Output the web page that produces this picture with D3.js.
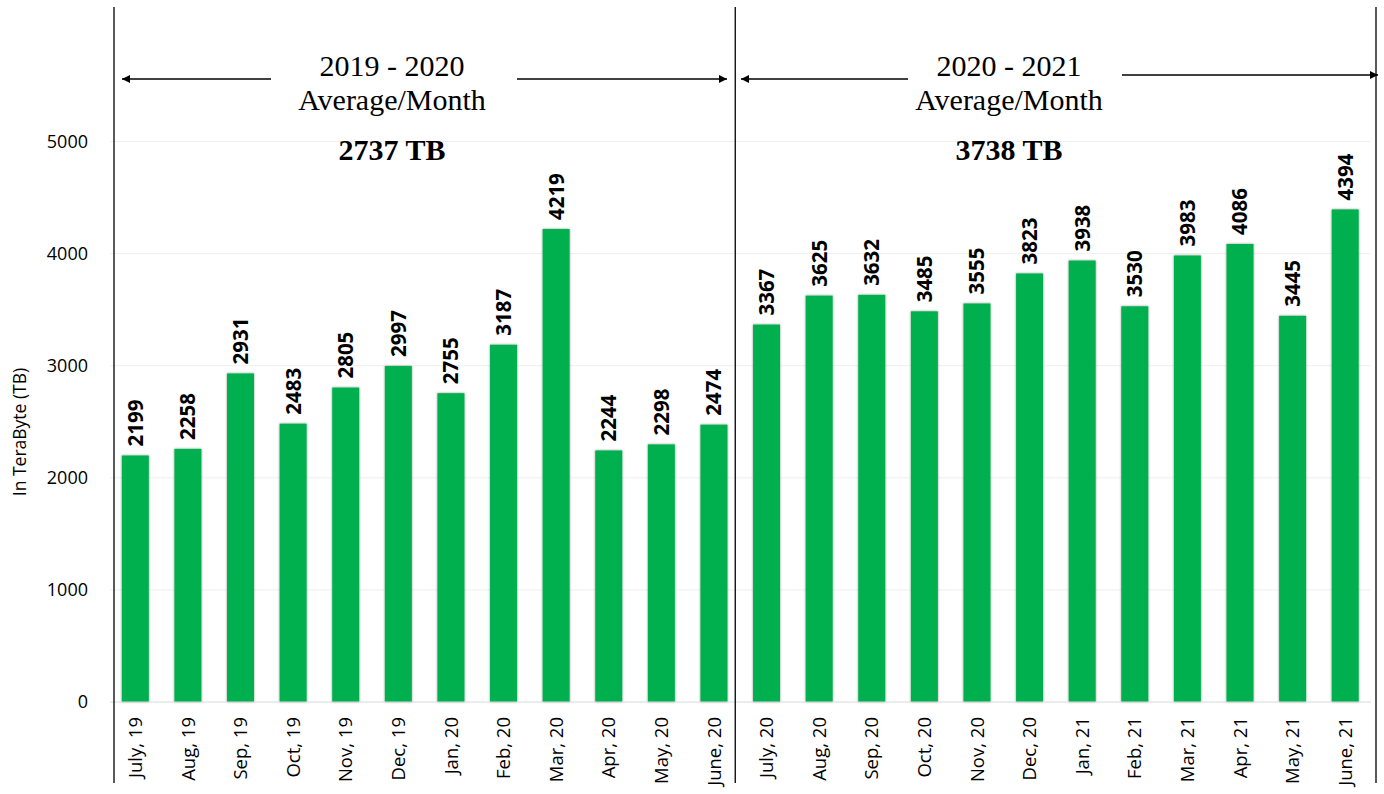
<!DOCTYPE html>
<html>
<head>
<meta charset="utf-8">
<script src="https://cdn.jsdelivr.net/npm/d3@7"></script>
<style>
  body { margin: 0; background: #fff; }
  svg { display: block; }
</style>
</head>
<body>
<svg width="1384" height="794"></svg>
<script>
// monthly usage, TB
const months = [
  "July, 19", "Aug, 19", "Sep, 19", "Oct, 19", "Nov, 19", "Dec, 19",
  "Jan, 20", "Feb, 20", "Mar, 20", "Apr, 20", "May, 20", "June, 20",
  "July, 20", "Aug, 20", "Sep, 20", "Oct, 20", "Nov, 20", "Dec, 20",
  "Jan, 21", "Feb, 21", "Mar, 21", "Apr, 21", "May, 21", "June, 21"
];
const values = [
  2199, 2258, 2931, 2483, 2805, 2997, 2755, 3187, 4219, 2244, 2298, 2474,
  3367, 3625, 3632, 3485, 3555, 3823, 3938, 3530, 3983, 4086, 3445, 4394
];
const periods = ["2019 - 2020", "2020 - 2021"];
const averages = ["2737 TB", "3738 TB"];
const yTicks = [0, 1000, 2000, 3000, 4000, 5000];

const svg = d3.select("svg");
const sans = "'Open Sans', sans-serif";
const serif = "'Liberation Serif', 'Times New Roman', serif";

const x = d3.scaleBand().domain(months).range([109, 1371.5]).paddingInner(0.487).paddingOuter(0.2435);
const y = d3.scaleLinear().domain([0, 6000]).range([702, 29.4]);

const defs = svg.append("defs");
const shadow = defs.append("filter").attr("id", "shadow")
  .attr("x", "-30%").attr("y", "-5%").attr("width", "160%").attr("height", "110%");
shadow.append("feDropShadow").attr("dx", 0).attr("dy", 0)
  .attr("stdDeviation", 1.3).attr("flood-color", "#000").attr("flood-opacity", 0.45);

defs.append("marker").attr("id", "arrow")
  .attr("viewBox", "0 0 10 10").attr("refX", 10).attr("refY", 5)
  .attr("markerWidth", 8).attr("markerHeight", 8)
  .attr("markerUnits", "userSpaceOnUse")
  .attr("orient", "auto")
  .append("path").attr("d", "M0,0L10,5L0,10Z").attr("fill", "#000");

// gridlines
svg.append("g").selectAll("line")
  .data(yTicks.slice(1))
  .enter().append("line")
  .attr("x1", 110).attr("x2", 1371)
  .attr("y1", d => y(d)).attr("y2", d => y(d))
  .attr("stroke", "#efefef").attr("stroke-width", 1);

// y axis labels
const yAxis = svg.append("g").attr("transform", "translate(110,0)")
  .call(d3.axisLeft(y).tickValues(yTicks).tickFormat(d3.format("d")).tickSize(0).tickPadding(22));
yAxis.select(".domain").remove();
yAxis.attr("font-family", sans).attr("font-size", 18);
yAxis.selectAll("text").attr("fill", "#000");

svg.append("text")
  .attr("transform", "translate(20,432) rotate(-90)")
  .attr("text-anchor", "middle").attr("dy", "0.35em")
  .attr("font-family", sans).attr("font-size", 17.5).attr("fill", "#000")
  .text("In TeraByte (TB)");

// bars
svg.append("g").selectAll("rect")
  .data(values)
  .enter().append("rect")
  .attr("x", (d, i) => x(months[i]))
  .attr("width", x.bandwidth())
  .attr("y", d => y(d))
  .attr("height", d => y(0) - y(d))
  .attr("fill", "#00b050")
  .attr("filter", "url(#shadow)");

// baseline
svg.append("line")
  .attr("x1", 110).attr("x2", 1371)
  .attr("y1", y(0)).attr("y2", y(0))
  .attr("stroke", "#d9d9d9").attr("stroke-width", 1.2);

// value labels
svg.append("g").selectAll("text")
  .data(values)
  .enter().append("text")
  .attr("transform", (d, i) =>
    "translate(" + (x(months[i]) + x.bandwidth() / 2) + "," + (y(d) - 9) + ") rotate(-90)")
  .attr("dy", "0.36em")
  .attr("font-family", sans).attr("font-weight", "bold").attr("font-size", 20.5)
  .attr("fill", "#000")
  .text(d => d);

// month labels
svg.append("g").selectAll("text")
  .data(months)
  .enter().append("text")
  .attr("transform", d =>
    "translate(" + (x(d) + x.bandwidth() / 2) + ",717) rotate(-90)")
  .attr("text-anchor", "end").attr("dy", "0.36em")
  .attr("font-family", sans).attr("font-size", 18.5).attr("fill", "#000")
  .text(d => d);

// period dividers
const divX = [114, (x(months[11]) + x.bandwidth() + x(months[12])) / 2 - 5, 1376];
svg.append("g").selectAll("line")
  .data(divX)
  .enter().append("line")
  .attr("x1", d => d).attr("x2", d => d)
  .attr("y1", 7).attr("y2", 783)
  .attr("stroke", "#000").attr("stroke-width", 1.3);

// period annotations
const notes = [
  { cx: 392, arrows: [[271, 79, 122, 79], [517, 79, 727, 79]] },
  { cx: 1009, arrows: [[908, 79, 741, 79], [1122, 75, 1378, 75]] }
];
notes.forEach((n, k) => {
  const g = svg.append("g").attr("font-family", serif).attr("fill", "#000")
    .attr("text-anchor", "middle").attr("font-size", 30);
  g.append("text").attr("x", n.cx).attr("y", 76).text(periods[k]);
  g.append("text").attr("x", n.cx).attr("y", 110).text("Average/Month");
  g.append("text").attr("x", n.cx).attr("y", 160).attr("font-weight", "bold").text(averages[k]);
  n.arrows.forEach(a => {
    svg.append("line")
      .attr("x1", a[0]).attr("y1", a[1]).attr("x2", a[2]).attr("y2", a[3])
      .attr("stroke", "#000").attr("stroke-width", 1.3)
      .attr("marker-end", "url(#arrow)");
  });
});
</script>
</body>
</html>
